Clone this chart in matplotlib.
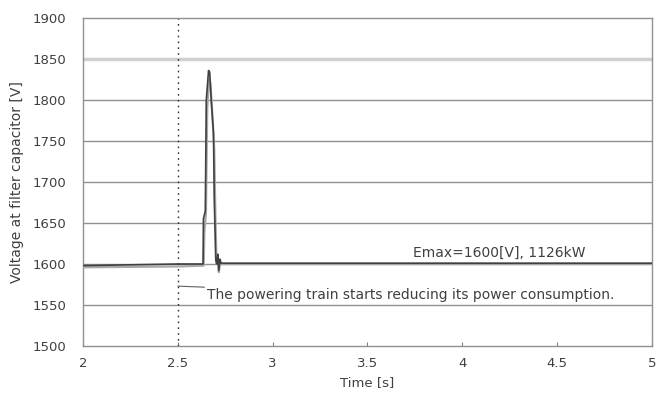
import matplotlib
matplotlib.use("Agg")
import matplotlib.pyplot as plt

# Data
time_dark = [2.0, 2.5, 2.633, 2.635, 2.645, 2.650, 2.662, 2.668, 2.676, 2.688, 2.692, 2.700, 2.706, 2.711, 2.716, 2.722, 2.728, 5.0]
volt_dark = [1598, 1600, 1600, 1655, 1665, 1800, 1836, 1834, 1800, 1760, 1680, 1605, 1600, 1612, 1592, 1606, 1601, 1601]
time_gray = [2.0, 2.5, 2.636, 2.640, 2.648, 2.655, 2.665, 2.672, 2.680, 2.692, 2.698, 2.704, 2.710, 2.716, 2.722, 5.0]
volt_gray = [1596, 1597, 1598, 1640, 1660, 1790, 1825, 1820, 1790, 1740, 1660, 1600, 1608, 1590, 1600, 1600]

yticks = [1500, 1550, 1600, 1650, 1700, 1750, 1800, 1850, 1900]
xticks = [2, 2.5, 3, 3.5, 4, 4.5, 5]
xtick_labels = ["2", "2.5", "3", "3.5", "4", "4.5", "5"]

plt.rcParams['font.family'] = ['DejaVu Sans']

fig = plt.figure(figsize=(6.56, 4.01), dpi=100)
ax = fig.add_axes([83/656, 1-346/401, (652-83)/656, (346-18)/401])

for y in yticks:
    if y == 1850:
        ax.axhline(y, color="#d0d0d0", lw=2.5, zorder=1)
    elif y not in (1500, 1900):
        ax.axhline(y, color="#909090", lw=1.0, zorder=1)

ax.axvline(2.5, color="#303030", lw=1.0, ls=(0, (1.2, 3)), zorder=2)

ax.plot(time_gray, volt_gray, color="#a8a8a8", lw=1.6, zorder=3)
ax.plot(time_dark, volt_dark, color="#404040", lw=1.2, zorder=4)

fs = 9.5
tc = "#404040"
ax.set_xlim(2, 5)
ax.set_ylim(1500, 1900)
ax.set_xticks(xticks)
ax.set_xticklabels(xtick_labels)
ax.set_yticks(yticks)
ax.tick_params(axis='x', direction='in', length=3, color="#808080", labelsize=fs, pad=8, labelcolor=tc)
ax.tick_params(axis='y', length=0, labelsize=fs, pad=12, labelcolor=tc)
for s in ax.spines.values():
    s.set_color("#909090")
    s.set_linewidth(1.0)

ax.set_xlabel("Time [s]", fontsize=fs, color=tc, labelpad=4)
ax.set_ylabel("Voltage at filter capacitor [V]", fontsize=10, color=tc, labelpad=6)

ax.text(3.74, 1613, "Emax=1600[V], 1126kW", fontsize=10, color=tc, va="center", ha="left")
ax.annotate("The powering train starts reducing its power consumption.",
            xy=(2.5, 1573), xytext=(2.655, 1562), fontsize=10, color=tc,
            va="center", ha="left",
            arrowprops=dict(arrowstyle="-", color="#606060", lw=0.8, shrinkA=0, shrinkB=0))

fig.savefig("out.png", dpi=100)
